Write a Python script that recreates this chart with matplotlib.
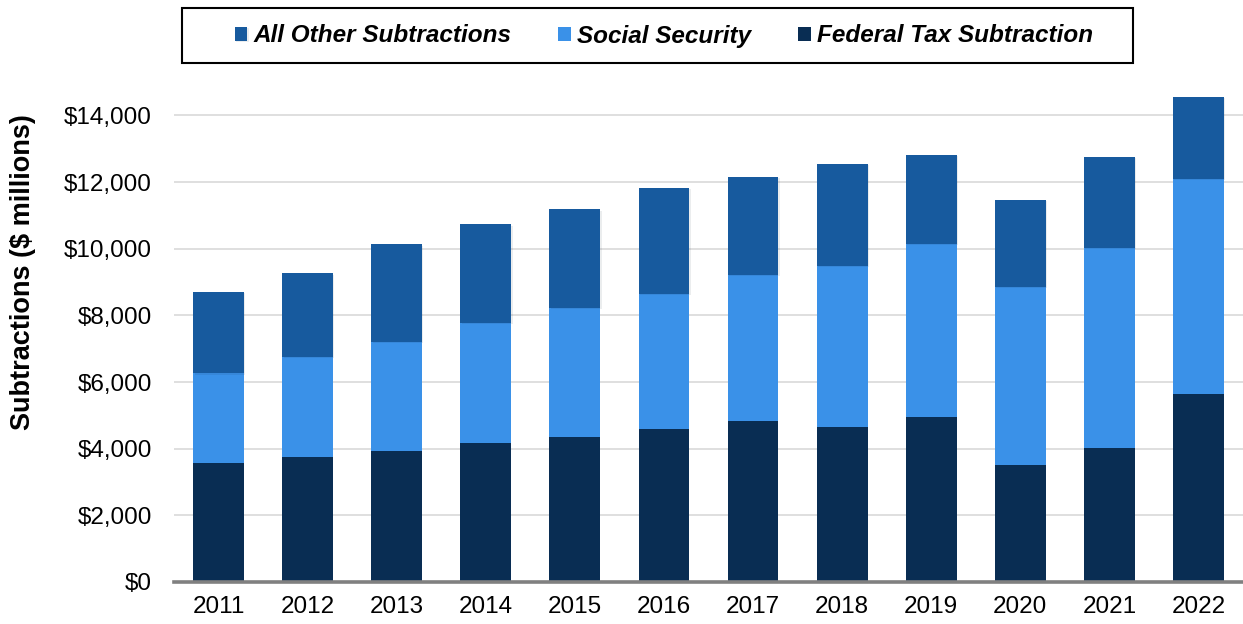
import matplotlib
matplotlib.use("Agg")
import matplotlib.pyplot as plt
from matplotlib.patches import Rectangle
from matplotlib.ticker import FuncFormatter
import matplotlib.patheffects as pe
import numpy as np

plt.rcParams['font.family'] = ['Liberation Sans', 'DejaVu Sans']

years = ["2011", "2012", "2013", "2014", "2015", "2016", "2017", "2018", "2019", "2020", "2021", "2022"]
federal_tax = [3580, 3750, 3930, 4170, 4350, 4580, 4820, 4660, 4940, 3510, 4020, 5630]
social_security = [2680, 3000, 3280, 3610, 3880, 4070, 4390, 4820, 5200, 5350, 6010, 6460]
all_other = [2450, 2510, 2920, 2950, 2950, 3170, 2940, 3060, 2670, 2600, 2720, 2460]
y_ticks = [0, 2000, 4000, 6000, 8000, 10000, 12000, 14000]

c_fed = "#092D53"
c_ss = "#3A91E8"
c_other = "#175A9E"

W, H = 1243, 624
fig = plt.figure(figsize=(W / 100, H / 100), dpi=100)
ax = fig.add_axes([174 / W, 1 - 582 / H, (W - 174) / W, (582 - 82) / H])

x = np.arange(len(years))
bw = 0.57
fed = np.array(federal_tax)
ss = np.array(social_security)
oth = np.array(all_other)

b1 = ax.bar(x, fed, bw, color=c_fed, zorder=3, label="Federal Tax Subtraction")
b2 = ax.bar(x, ss, bw, bottom=fed, color=c_ss, zorder=3, label="Social Security")
b3 = ax.bar(x, oth, bw, bottom=fed + ss, color=c_other, zorder=3, label="All Other Subtractions")
for p in b3:
    p.set_path_effects([pe.SimplePatchShadow(offset=(1.0, -1.0), alpha=0.08), pe.Normal()])

ax.set_xlim(-0.5, len(years) - 0.5)
ax.set_ylim(0, 15000)
ax.set_yticks(y_ticks)
ax.yaxis.set_major_formatter(FuncFormatter(lambda v, p: "${:,.0f}".format(v)))
ax.set_xticks(x)
ax.set_xticklabels(years)
ax.tick_params(axis='both', length=0, labelsize=17.5, colors="#000000")
ax.tick_params(axis='y', pad=16)
ax.tick_params(axis='x', pad=10)
ax.grid(axis='y', color="#d9d9d9", linewidth=1.2, zorder=0)
ax.set_axisbelow(True)
for s in ["top", "right", "left"]:
    ax.spines[s].set_visible(False)
ax.spines["bottom"].set_color("#808080")
ax.spines["bottom"].set_linewidth(2.6)
ax.spines["bottom"].set_zorder(4)

fig.text(23 / W, 1 - 272 / H, "Subtractions ($ millions)", rotation=90,
         ha="center", va="center", fontsize=19.5, fontweight="bold")

# Legend box
fig.patches.append(Rectangle((182 / W, 1 - 63 / H), (1133 - 182) / W, (63 - 8) / H,
                             transform=fig.transFigure, fill=False, edgecolor="#000000",
                             linewidth=1.5, zorder=5))
leg = fig.legend(handles=[b3, b2, b1], labels=["All Other Subtractions", "Social Security", "Federal Tax Subtraction"],
                 loc="center", bbox_to_anchor=(664 / W, 1 - 36 / H), ncol=3, frameon=False,
                 prop={'size': 17.5, 'weight': 'bold', 'style': 'italic'},
                 handlelength=0.53, handleheight=0.53, handletextpad=0.25, columnspacing=1.93)

fig.savefig("out.png", dpi=100)
